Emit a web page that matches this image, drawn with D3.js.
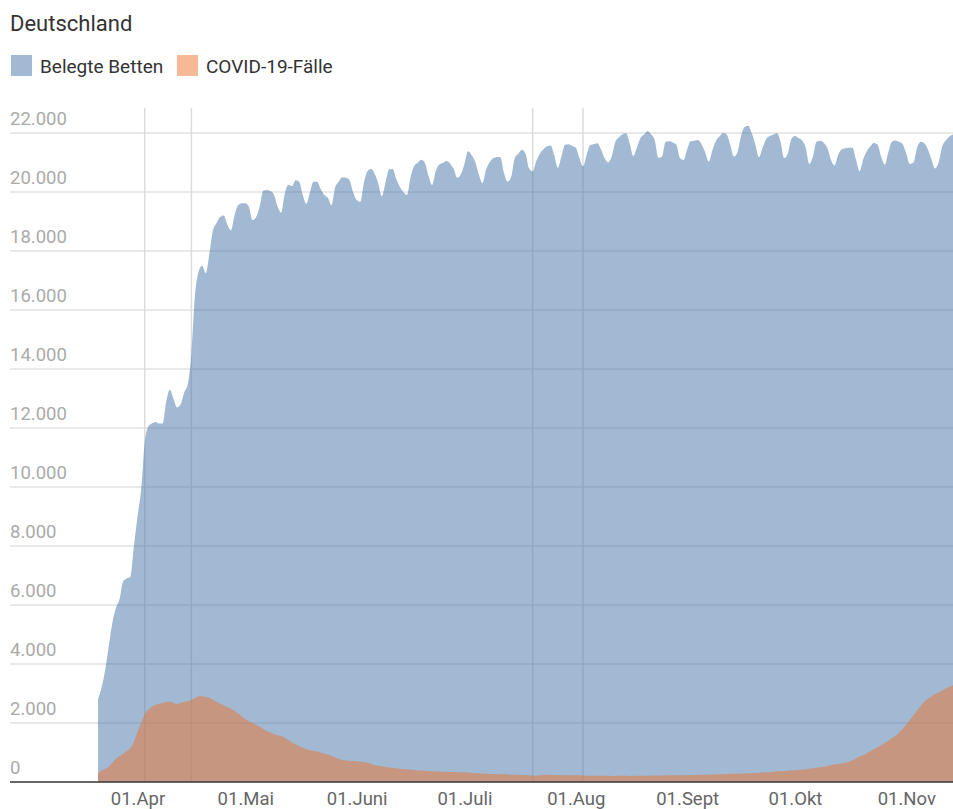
<!DOCTYPE html>
<html>
<head>
<meta charset="utf-8">
<script src="https://cdn.jsdelivr.net/npm/d3@7"></script>
<style>
  body { margin: 0; background: #fff; font-family: Roboto, sans-serif; }
</style>
</head>
<body>
<script>
var width = 953, height = 809;

// first day of the series, one value per day after that
var startDate = new Date(2020, 2, 21);

var belegteBetten = [
  2800, 3200, 3800, 4600, 5400, 5900, 6200, 6800, 6900, 6950,
  8000, 9000, 9900, 11500, 12050, 12150, 12200, 12150, 12150, 12900,
  13300, 13000, 12700, 12800, 13200, 13500, 14500, 16500, 17300, 17500,
  17250, 17900, 18700, 18950, 19150, 19200, 18900, 18700, 19200, 19550,
  19620, 19620, 19500, 19050, 19150, 19500, 20050, 20070, 20030, 19900,
  19500, 19300, 19950, 20250, 20200, 20400, 20350, 19900, 19600, 20000,
  20350, 20350, 20100, 19900, 19800, 19560, 20150, 20350, 20500, 20480,
  20410, 20000, 19730, 19670, 20300, 20700, 20790, 20620, 20300, 19860,
  20300, 20760, 20780, 20450, 20180, 20000, 19900, 20500, 20880, 20990,
  21090, 20980, 20550, 20240, 20700, 20930, 20980, 21050, 20970, 20780,
  20480, 20600, 20950, 21380, 21250, 21020, 20600, 20300, 20750, 21000,
  21140, 21190, 21180, 20650, 20350, 20500, 21150, 21300, 21430, 21300,
  20800, 20700, 21050, 21300, 21450, 21550, 21580, 21250, 20820, 21200,
  21600, 21620, 21560, 21500, 21150, 20870, 21250, 21590, 21620, 21650,
  21450, 21150, 21000, 21200, 21700, 21860, 21960, 21990, 21650, 21220,
  21500, 21830, 21950, 22060, 21950, 21750, 21150, 21200, 21700, 21720,
  21680, 21600, 21150, 21080, 21450, 21720, 21740, 21760, 21620, 21350,
  21030, 21400, 21730, 21880, 22000, 21950, 21600, 21200, 21350, 21900,
  22200, 22250, 21990, 21600, 21180, 21500, 21800, 21900, 21950, 21990,
  21700, 21150, 21300, 21800, 21900, 21830, 21750, 21500, 20950, 21200,
  21700, 21740, 21670, 21500, 21100, 20900, 21250, 21440, 21480, 21500,
  21500, 21100, 20700, 21100, 21380, 21550, 21660, 21600, 21200, 20930,
  21350, 21700, 21750, 21700, 21620, 21300, 20950, 21000, 21500, 21700,
  21650, 21450, 21100, 20800, 21000, 21550, 21750, 21880, 21950
];

var covidFaelle = [
  300, 380, 450, 520, 650, 790, 880, 960, 1050, 1150,
  1350, 1700, 2000, 2300, 2460, 2550, 2610, 2650, 2680, 2710,
  2720, 2690, 2640, 2680, 2720, 2740, 2780, 2840, 2910, 2910,
  2880, 2860, 2790, 2720, 2660, 2600, 2540, 2490, 2410, 2330,
  2230, 2130, 2060, 2000, 1940, 1870, 1800, 1740, 1680, 1630,
  1580, 1560, 1500, 1420, 1340, 1270, 1220, 1160, 1110, 1080,
  1060, 1030, 990, 960, 930, 880, 830, 790, 750, 730,
  720, 710, 700, 690, 680, 650, 610, 570, 550, 530,
  510, 490, 480, 465, 450, 440, 430, 420, 410, 400,
  390, 385, 375, 365, 360, 355, 350, 345, 340, 335,
  330, 330, 330, 325, 315, 305, 295, 285, 280, 275,
  270, 265, 260, 260, 255, 250, 250, 245, 240, 235,
  230, 220, 215, 225, 240, 245, 240, 235, 235, 230,
  230, 225, 230, 230, 225, 220, 215, 215, 210, 210,
  215, 215, 210, 205, 205, 210, 215, 210, 205, 205,
  210, 210, 210, 215, 215, 220, 220, 215, 220, 225,
  225, 230, 230, 225, 230, 235, 235, 240, 245, 245,
  250, 255, 255, 260, 265, 270, 275, 280, 280, 285,
  290, 295, 300, 305, 315, 320, 330, 340, 350, 360,
  365, 375, 385, 390, 400, 410, 420, 435, 450, 465,
  480, 500, 520, 545, 570, 590, 610, 630, 650, 690,
  740, 800, 860, 910, 970, 1040, 1110, 1180, 1250, 1320,
  1400, 1480, 1570, 1680, 1800, 1950, 2100, 2260, 2420, 2580,
  2720, 2820, 2900, 2980, 3030, 3100, 3170, 3230, 3290
];

var seriesNames = ["Belegte Betten", "COVID-19-Fälle"];
var seriesColors = ["#4373a7", "#ed732d"];

var yTicks = [0, 2000, 4000, 6000, 8000, 10000, 12000, 14000, 16000, 18000, 20000, 22000];

var monthTicks = [
  new Date(2020, 3, 1), new Date(2020, 4, 1), new Date(2020, 5, 1), new Date(2020, 6, 1),
  new Date(2020, 7, 1), new Date(2020, 8, 1), new Date(2020, 9, 1), new Date(2020, 10, 1)
];
var monthLabels = ["01.Apr", "01.Mai", "01.Juni", "01.Juli", "01.Aug", "01.Sept", "01.Okt", "01.Nov"];

// vertical marker lines
var markerDates = [new Date(2020, 3, 3), new Date(2020, 3, 16), new Date(2020, 6, 20), new Date(2020, 7, 3)];

var de = d3.formatLocale({decimal: ",", thousands: ".", grouping: [3], currency: ["", " €"]});
var fmt = de.format(",");

var data = belegteBetten.map((v, i) => ({
  date: d3.timeDay.offset(startDate, i),
  betten: v,
  covid: covidFaelle[i]
}));

var x = d3.scaleTime()
    .domain(d3.extent(data, d => d.date))
    .range([98, 953]);

var y = d3.scaleLinear()
    .domain([0, 22000])
    .range([782, 133]);

var svg = d3.select("body").append("svg")
    .attr("width", width)
    .attr("height", height)
    .style("font-family", "Roboto, sans-serif");

// title
svg.append("text")
    .attr("x", 10)
    .attr("y", 31)
    .attr("fill", "#333")
    .style("font-size", "22px")
    .text("Deutschland");

// legend
var legend = svg.append("g").selectAll("g")
    .data(seriesNames)
  .join("g")
    .attr("transform", (d, i) => `translate(${i == 0 ? 11 : 177},0)`);

legend.append("rect")
    .attr("x", 0)
    .attr("y", 55)
    .attr("width", 21)
    .attr("height", 21)
    .attr("fill", (d, i) => seriesColors[i])
    .attr("fill-opacity", 0.5);

legend.append("text")
    .attr("x", 29)
    .attr("y", 72.5)
    .attr("fill", "#333")
    .style("font-size", "19px")
    .text(d => d);

// horizontal grid
svg.append("g")
  .selectAll("line")
  .data(yTicks.filter(d => d > 0))
  .join("line")
    .attr("x1", 10)
    .attr("x2", 953)
    .attr("y1", d => y(d))
    .attr("y2", d => y(d))
    .attr("stroke", "#e2e2e2")
    .attr("stroke-width", 1.3);

// vertical marker lines
svg.append("g")
  .selectAll("line")
  .data(markerDates)
  .join("line")
    .attr("x1", d => x(d))
    .attr("x2", d => x(d))
    .attr("y1", 108)
    .attr("y2", 782)
    .attr("stroke", "#dcdcdc")
    .attr("stroke-width", 1.5);

// y labels
svg.append("g")
  .selectAll("text")
  .data(yTicks)
  .join("text")
    .attr("x", 10)
    .attr("y", d => y(d) - 8)
    .attr("fill", "#aaa")
    .style("font-size", "18.5px")
    .text(d => fmt(d));

// areas
var areaBetten = d3.area()
    .curve(d3.curveMonotoneX)
    .x(d => x(d.date))
    .y0(y(0))
    .y1(d => y(d.betten));

var areaCovid = d3.area()
    .curve(d3.curveMonotoneX)
    .x(d => x(d.date))
    .y0(y(0))
    .y1(d => y(d.covid));

svg.append("path")
    .datum(data)
    .attr("d", areaBetten)
    .attr("fill", seriesColors[0])
    .attr("fill-opacity", 0.5);

svg.append("path")
    .datum(data)
    .attr("d", areaCovid)
    .attr("fill", seriesColors[1])
    .attr("fill-opacity", 0.5);

// baseline
svg.append("line")
    .attr("x1", 10)
    .attr("x2", 953)
    .attr("y1", y(0))
    .attr("y2", y(0))
    .attr("stroke", "#333")
    .attr("stroke-width", 1.3);

// x axis
var xAxis = svg.append("g")
    .attr("transform", `translate(0,${y(0)})`)
    .call(d3.axisBottom(x)
        .tickValues(monthTicks)
        .tickFormat((d, i) => monthLabels[i])
        .tickSize(0)
        .tickPadding(10));

xAxis.select(".domain").remove();
xAxis.selectAll("text")
    .attr("fill", "#666")
    .style("font-family", "Roboto, sans-serif")
    .style("font-size", "18.5px");
</script>
</body>
</html>
